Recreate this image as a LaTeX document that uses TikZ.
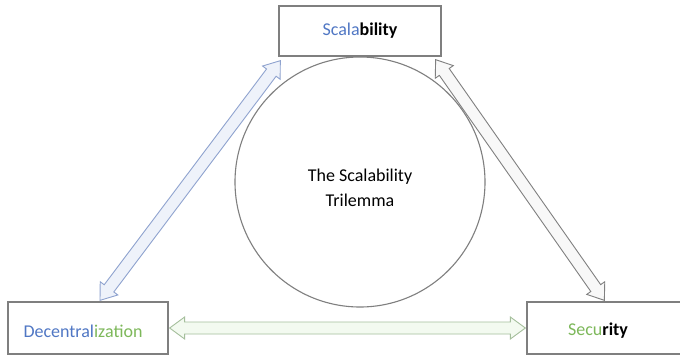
\documentclass[tikz,border=0pt]{standalone}
\usepackage{fontspec}
\setmainfont{Carlito}
\usetikzlibrary{calc}
\definecolor{cblue}{HTML}{5077C4}
\definecolor{cgreen}{HTML}{7DB85A}
\definecolor{boxgray}{HTML}{7F7F7F}
\definecolor{blueline}{HTML}{8FA3CF}
\definecolor{bluefill}{HTML}{EEF2FA}
\definecolor{greenline}{HTML}{A5BF9C}
\definecolor{greenfill}{HTML}{F3FAF0}
\definecolor{grayline}{HTML}{808080}
\definecolor{grayfill}{HTML}{F8F8F8}
\tikzset{
  box/.style={draw=boxgray, line width=1.3pt, fill=white, inner sep=0pt},
  lbl/.style={font=\fontsize{18}{22}\selectfont, inner sep=0pt},
  dbl/.style={line width=0.9pt, line join=miter}
}
\newcommand{\dblarr}[3]{%
  \coordinate (hA) at ($(#1)!15pt!(#2)$);
  \coordinate (hB) at ($(#2)!15pt!(#1)$);
  \draw[dbl, #3] (#1)
    -- ($(hA)!11pt!90:(#2)$) -- ($(hA)!6pt!90:(#2)$)
    -- ($(hB)!6pt!-90:(#1)$) -- ($(hB)!11pt!-90:(#1)$)
    -- (#2)
    -- ($(hB)!11pt!90:(#1)$) -- ($(hB)!6pt!90:(#1)$)
    -- ($(hA)!6pt!-90:(#2)$) -- ($(hA)!11pt!-90:(#2)$)
    -- cycle;}
\begin{document}
\begin{tikzpicture}[x=1pt,y=-1pt]
\clip (0,0) rectangle (680,356);
\fill[white] (0,0) rectangle (680,356);
% boxes
\node[box, minimum width=162pt, minimum height=50pt] (sc) at (360,31) {};
\node[box, minimum width=160pt, minimum height=52pt] (dc) at (88,328) {};
\node[box, minimum width=165pt, minimum height=52pt] (se) at (609.5,328) {};
% circle
\node[draw=boxgray, line width=1.1pt, circle, minimum size=250pt, inner sep=0pt] (tri) at (360,182) {};
% labels
\node[lbl] (scl) at (360,31) {\textcolor{cblue}{Scala}\textbf{bility}};
\node[lbl] (dcl) at (83,331) {\textcolor{cblue}{Decentral}\textcolor{cgreen}{ization}};
\node[lbl] (sel) at (598,331) {\textcolor{cgreen}{Secu}\textbf{rity}};
\node[lbl, align=center, font=\fontsize{18}{25}\selectfont] (tril) at (360,188) {The Scalability\\Trilemma};
% arrow end points
\coordinate (a1) at ($(sc.south west)+(2,4)$);
\coordinate (a2) at ($(dc.north)+(12,-1)$);
\coordinate (b1) at ($(sc.south east)+(-6,3)$);
\coordinate (b2) at ($(se.north west)+(78,-1)$);
\coordinate (c1) at ($(dc.east)+(1,0)$);
\coordinate (c2) at ($(se.west)+(-1,0)$);
\dblarr{a1}{a2}{draw=blueline, fill=bluefill}
\dblarr{b1}{b2}{draw=grayline, fill=grayfill}
\dblarr{c1}{c2}{draw=greenline, fill=greenfill}
\end{tikzpicture}
\end{document}
